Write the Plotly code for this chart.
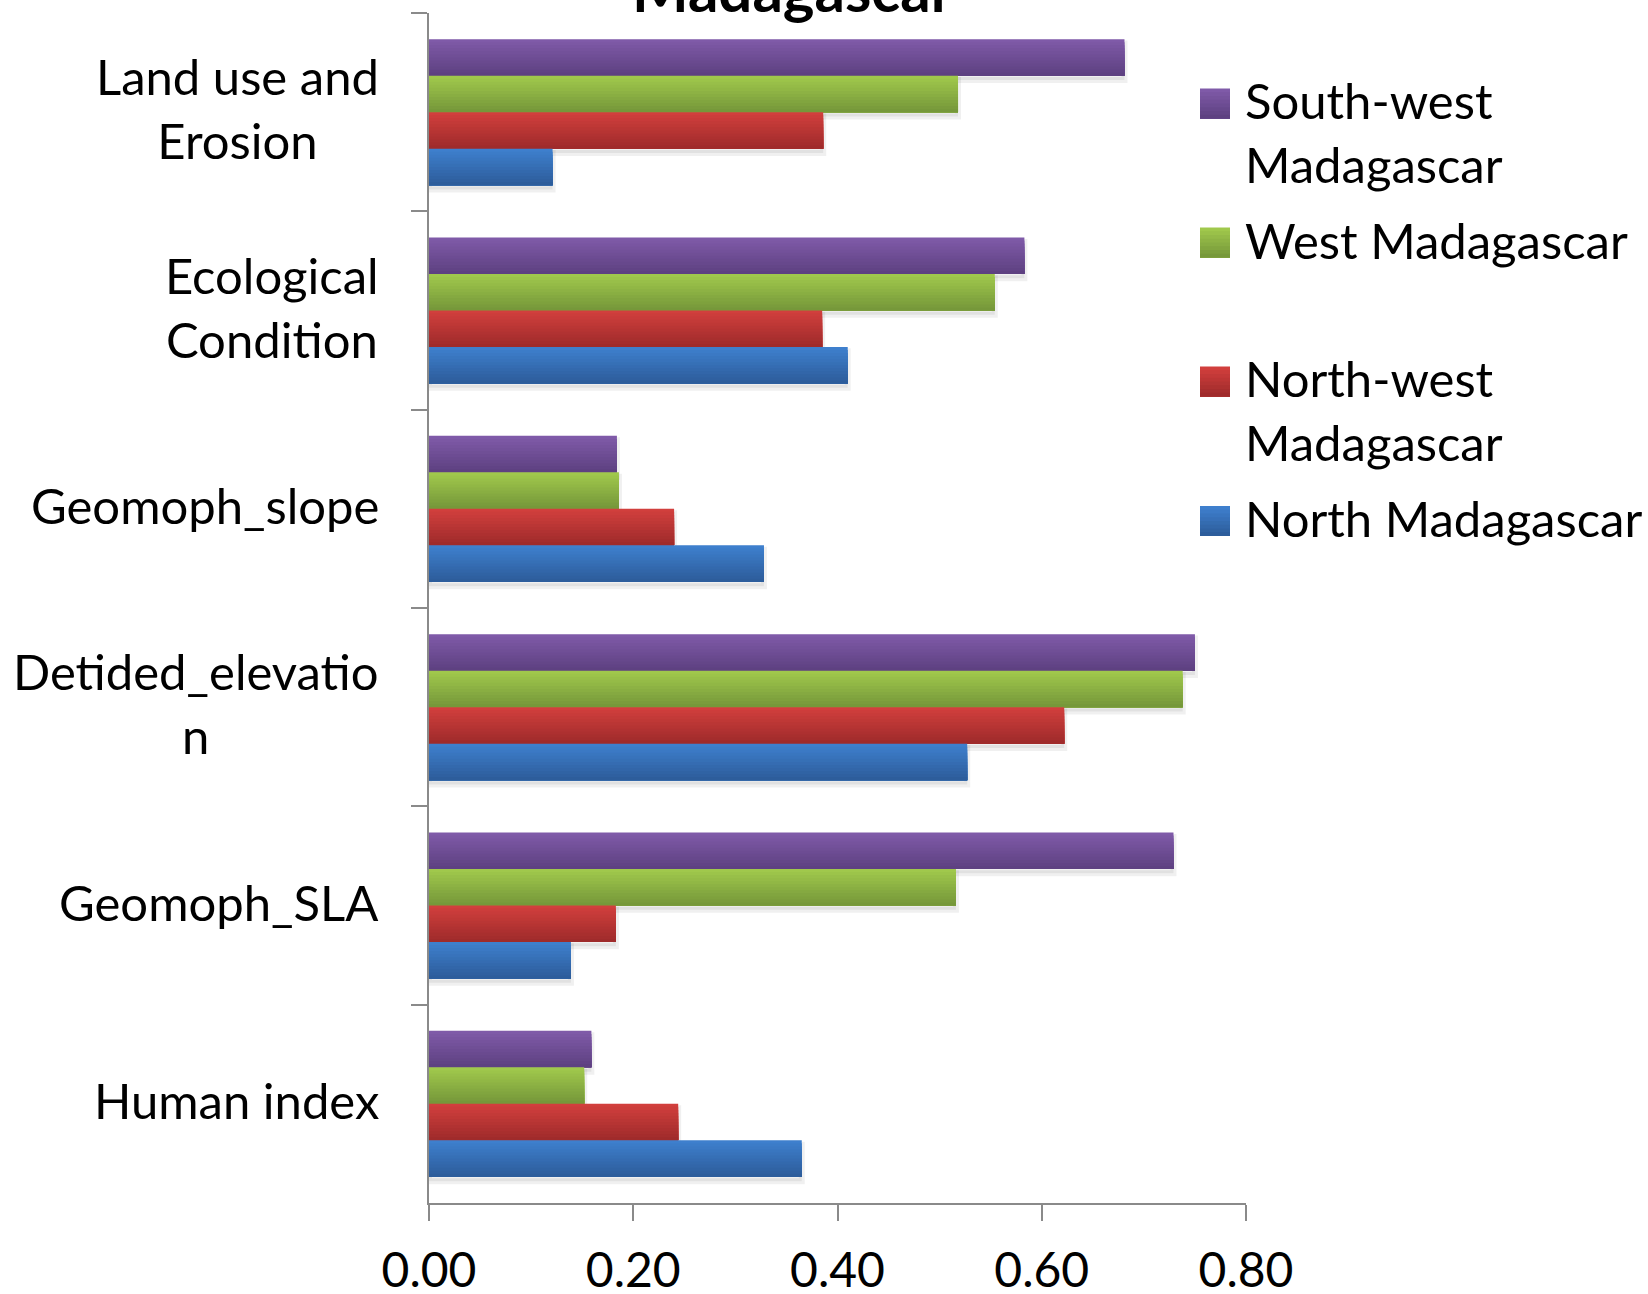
import plotly.graph_objects as go

# Categories, top to bottom
categories = ["Land use and Erosion", "Ecological Condition", "Geomoph_slope",
              "Detided_elevation", "Geomoph_SLA", "Human index"]
category_labels = ["Land use and<br>Erosion", "Ecological<br>Condition", "Geomoph_slope",
                   "Detided_elevatio<br>n", "Geomoph_SLA", "Human index"]

# Series values (same order as categories)
south_west = [0.681, 0.583, 0.184, 0.750, 0.729, 0.159]
west = [0.518, 0.554, 0.186, 0.738, 0.516, 0.152]
north_west = [0.386, 0.385, 0.240, 0.622, 0.183, 0.244]
north = [0.121, 0.410, 0.328, 0.527, 0.139, 0.365]

series_names = ["South-west Madagascar", "West Madagascar", "North-west Madagascar", "North Madagascar"]
legend_labels = ["South-west<br>Madagascar", "West Madagascar", "North-west<br>Madagascar", "North Madagascar"]
series_values = [south_west, west, north_west, north]

# Gradient end colours (top, bottom) for each series
gradients = [("#7F5AA8", "#5E4181"),
             ("#A0C84C", "#76983A"),
             ("#D13F3D", "#9F2B2B"),
             ("#3E7FCD", "#2D5D9B")]

x_ticks = [0.0, 0.2, 0.4, 0.6, 0.8]
title_text = "Madagascar"

FONT = "Lato"
FS = 49
TICK_FS = 48
AXIS_COLOR = "#8a8a8a"

# Figure geometry (pixels)
W, H = 1648, 1294
ML, MR, MT, MB = 429, 402, 13, 91
PW, PH = W - ML - MR, H - MT - MB


def paper_x(px):
    return (px - ML) / PW


def paper_y(py):
    return (H - MB - py) / PH


def mix(c1, c2, t):
    a = [int(c1[i:i + 2], 16) for i in (1, 3, 5)]
    b = [int(c2[i:i + 2], 16) for i in (1, 3, 5)]
    return "rgb(%d,%d,%d)" % tuple(round(a[k] + (b[k] - a[k]) * t) for k in range(3))


GROUP = 0.736           # fraction of each category band filled by the bar group
BAR_W = GROUP / 4
N_STRIPS = 12

fig = go.Figure()

# Soft drop shadows behind each bar
for k, vals in enumerate(series_values):
    off = -GROUP / 2 + k * BAR_W + 0.022
    fig.add_trace(go.Bar(
        x=vals, y=categories, orientation="h", offset=off, width=BAR_W,
        marker=dict(color="rgba(0,0,0,0.06)", line=dict(color="rgba(0,0,0,0.06)", width=6)),
        showlegend=False, hoverinfo="skip"))

# Bars with a vertical gradient: each layer starts a little lower and runs
# to the bottom of the bar, so successive layers darken the lower part
for k, (name, vals) in enumerate(zip(series_names, series_values)):
    top, bottom = gradients[k]
    base = -GROUP / 2 + k * BAR_W
    sw = BAR_W / N_STRIPS
    for j in range(N_STRIPS):
        fig.add_trace(go.Bar(
            x=vals, y=categories, orientation="h",
            offset=base + j * sw, width=BAR_W - j * sw,
            marker=dict(color=mix(top, bottom, j / (N_STRIPS - 1)), line=dict(width=0)),
            name=name, legendgroup=name, showlegend=False,
            hovertemplate="%{y}: %{x:.2f}<extra>" + name + "</extra>"))

annotations = []
shapes = []

# Category labels, centred lines, right-aligned block
for cat, lab in zip(categories, category_labels):
    annotations.append(dict(
        x=0, xref="paper", xanchor="right", xshift=-48,
        y=cat, yref="y", yanchor="middle", yshift=4,
        text=lab, align="center", showarrow=False,
        font=dict(family=FONT, size=FS, color="black")))

# Legend: gradient squares and text
sq_centres = [103.5, 242.5, 381.5, 521]
SQ = 30
SQ_X0 = 1200
for k, lab in enumerate(legend_labels):
    top, bottom = gradients[k]
    cy = sq_centres[k]
    n = 8
    for j in range(n):
        y0 = cy - SQ / 2 + j * SQ / n
        shapes.append(dict(
            type="rect", xref="paper", yref="paper",
            x0=paper_x(SQ_X0), x1=paper_x(SQ_X0 + SQ),
            y0=paper_y(cy + SQ / 2), y1=paper_y(y0),
            fillcolor=mix(top, bottom, j / (n - 1)), line=dict(width=0)))
    n_lines = lab.count("<br>") + 1
    centre = cy + (n_lines - 1) * 0.65 * FS - 3
    annotations.append(dict(
        x=paper_x(1243), xref="paper", xanchor="left",
        y=paper_y(centre), yref="paper", yanchor="middle",
        text=lab, align="left", showarrow=False,
        font=dict(family=FONT, size=FS, color="black")))

# Chart title (runs off the top edge)
annotations.append(dict(
    x=paper_x(793), xref="paper", xanchor="center",
    y=1, yref="paper", yanchor="bottom", yshift=-14,
    text="<b>" + title_text + "</b>", showarrow=False,
    font=dict(family=FONT, size=60, color="black")))

fig.update_layout(
    width=W, height=H,
    margin=dict(l=ML, r=MR, t=MT, b=MB, pad=0, autoexpand=False),
    paper_bgcolor="white", plot_bgcolor="white",
    barmode="overlay", showlegend=False,
    font=dict(family=FONT, size=FS, color="black"),
    annotations=annotations, shapes=shapes,
    xaxis=dict(range=[0, 0.8], tickvals=x_ticks, tickformat=".2f",
               automargin=False,
               showgrid=False, zeroline=False,
               showline=True, linecolor=AXIS_COLOR, linewidth=2,
               ticks="outside", ticklen=16, tickwidth=2, tickcolor=AXIS_COLOR,
               tickfont=dict(family=FONT, size=TICK_FS, color="black"),
               ticklabelstandoff=8),
    yaxis=dict(type="category", categoryorder="array", categoryarray=categories,
               autorange="reversed", showticklabels=False, automargin=False,
               showgrid=False, zeroline=False,
               showline=True, linecolor=AXIS_COLOR, linewidth=2,
               ticks="outside", tickson="boundaries", ticklen=16, tickwidth=2,
               tickcolor=AXIS_COLOR),
)

fig.write_html("out.html")
